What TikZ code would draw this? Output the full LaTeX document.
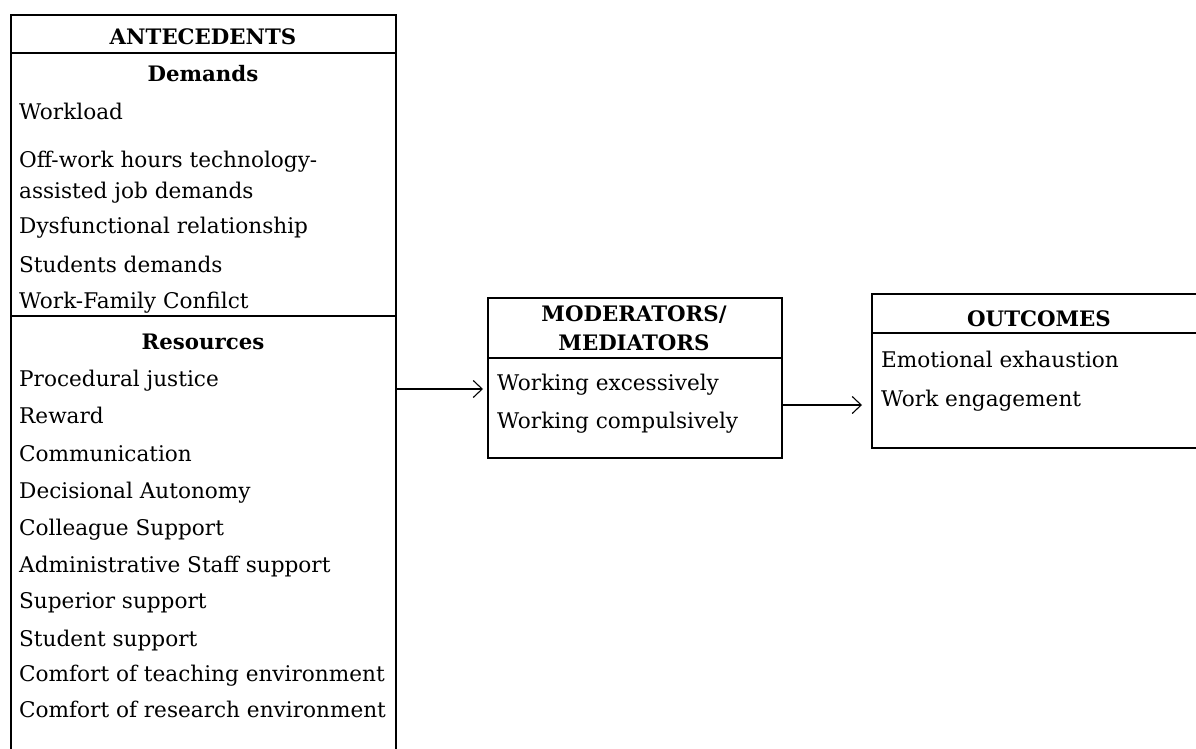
\documentclass[tikz,border=0pt]{standalone}
\usepackage{fontspec}
\setmainfont{DejaVu Serif}
\usetikzlibrary{arrows.meta}
\begin{document}
\begin{tikzpicture}[x=1pt,y=-1pt,
  box/.style={draw, line width=1.6pt, inner sep=0pt},
  sep/.style={line width=1.6pt},
  item/.style={anchor=base west, inner sep=0pt, font=\fontsize{21.6}{24}\selectfont},
  head/.style={anchor=base, inner sep=0pt, font=\fontsize{21.3}{24}\selectfont\bfseries},
  conn/.style={-{Straight Barb[length=9pt,width=17pt,line width=1.1pt]}, line width=1.1pt}]
\useasboundingbox (0,0) rectangle (1196,749);
\clip (0,0) rectangle (1196,749);
% boxes
\node[box, anchor=north west, minimum width=385pt, minimum height=760pt] (ante) at (10,14) {};
\node[box, anchor=north west, minimum width=294pt, minimum height=160pt] (mod) at (487,297) {};
\node[box, anchor=north west, minimum width=400pt, minimum height=154pt] (out) at (871,293) {};
% separators
\coordinate (a1) at (10,53); \coordinate (a2) at (395,53);
\coordinate (a3) at (10,316); \coordinate (a4) at (395,316);
\coordinate (m1) at (487,358); \coordinate (m2) at (781,358);
\coordinate (o1) at (871,333); \coordinate (o2) at (1271,333);
\draw[sep] (a1) -- (a2);
\draw[sep] (a3) -- (a4);
\draw[sep] (m1) -- (m2);
\draw[sep] (o1) -- (o2);
% antecedents text
\node[head] (hA) at (203,45) {ANTECEDENTS};
\node[head] (hD) at (203,82) {Demands};
\node[item] (d1) at (19,120) {Workload};
\node[item] (d2) at (19,167) {Off-work hours technology-};
\node[item] (d3) at (19,198) {assisted job demands};
\node[item] (d4) at (19,233) {Dysfunctional relationship};
\node[item] (d5) at (19,272) {Students demands};
\node[item] (d6) at (19,308) {Work-Family Confilct};
\node[head] (hR) at (203,349) {Resources};
\node[item] (r1) at (19,386) {Procedural justice};
\node[item] (r2) at (19,423) {Reward};
\node[item] (r3) at (19,461) {Communication};
\node[item] (r4) at (19,498) {Decisional Autonomy};
\node[item] (r5) at (19,535) {Colleague Support};
\node[item] (r6) at (19,572) {Administrative Staff support};
\node[item] (r7) at (19,608) {Superior support};
\node[item] (r8) at (19,646) {Student support};
\node[item] (r9) at (19,681) {Comfort of teaching environment};
\node[item] (r10) at (19,717) {Comfort of research environment};
% moderators
\node[head] (hM1) at (634,321) {MODERATORS/};
\node[head] (hM2) at (634,350) {MEDIATORS};
\node[item] (w1) at (497,390) {Working excessively};
\node[item] (w2) at (497,428) {Working compulsively};
% outcomes
\node[head] (hO) at (1039,326) {OUTCOMES};
\node[item] (e1) at (881,367) {Emotional exhaustion};
\node[item] (e2) at (881,406) {Work engagement};
% connectors
\draw[conn, shorten >=4pt] (ante.east |- 0,389) -- (mod.west |- 0,389);
\draw[conn, shorten >=9pt] (mod.east |- 0,405) -- (out.west |- 0,405);
\end{tikzpicture}
\end{document}
